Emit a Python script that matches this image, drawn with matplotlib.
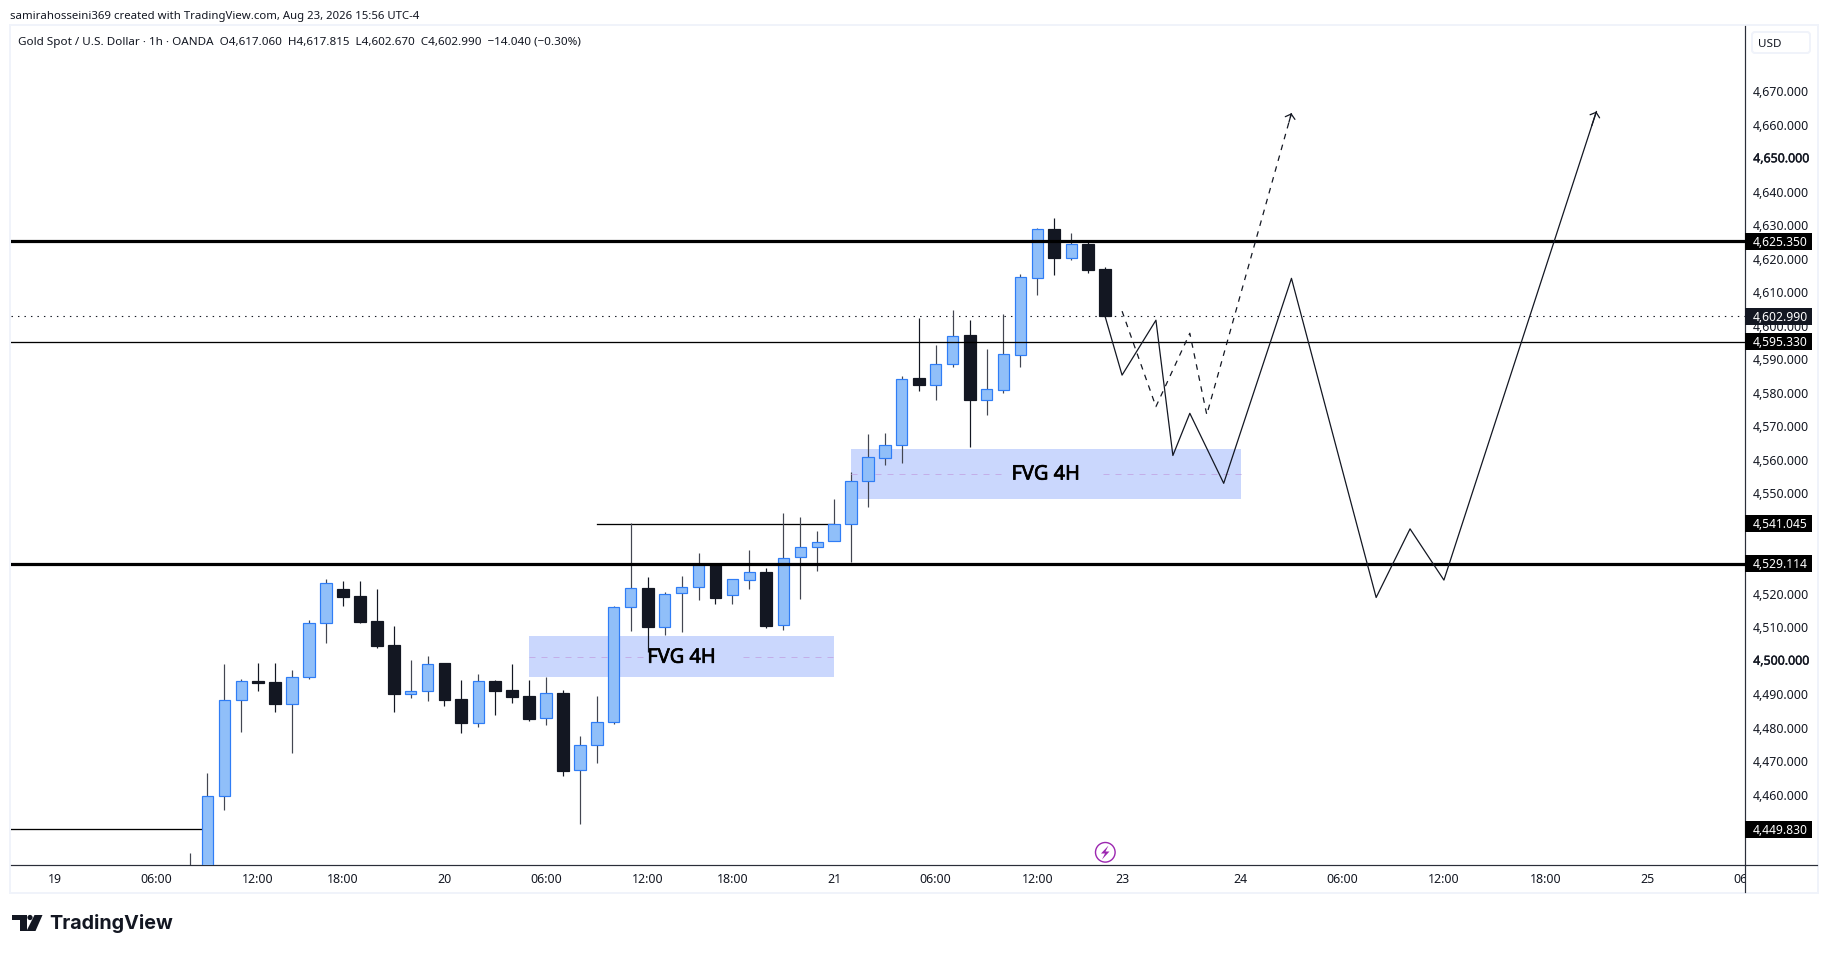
import numpy as np
import matplotlib
matplotlib.use("Agg")
import matplotlib.pyplot as plt
import matplotlib.patheffects as pe
from matplotlib.patches import Rectangle, Circle, Polygon, FancyBboxPatch
from matplotlib.lines import Line2D
from matplotlib.transforms import Affine2D, Bbox, TransformedBbox

# ---------- data ----------
bar_index = list(range(-1, 54))
opens = [4432, 4430, 4459.8, 4488.3, 4494.2, 4493.9, 4487.2, 4495.2, 4511.3, 4521.6, 4519.3, 4512.1, 4504.9,
         4490.1, 4491.0, 4499.3, 4488.8, 4481.4, 4494.2, 4491.5, 4489.7, 4482.9, 4490.6, 4467.4, 4474.9,
         4481.7, 4516.2, 4521.9, 4510.1, 4520.2, 4522.0, 4529.1, 4519.6, 4524.1, 4526.7, 4510.7, 4531.0,
         4534.0, 4535.8, 4540.8, 4553.9, 4560.8, 4564.4, 4584.6, 4582.6, 4588.6, 4597.4, 4578.1, 4581.1,
         4591.5, 4614.5, 4629.1, 4620.5, 4624.6, 4617.06]
highs = [4442.8, 4466.7, 4499.0, 4494.8, 4499.5, 4499.3, 4497.5, 4512.4, 4524.6, 4524.0, 4524.0, 4521.6, 4510.6,
         4500.2, 4501.6, 4499.5, 4494.5, 4496.3, 4494.5, 4499.0, 4494.5, 4495.4, 4491.5, 4477.5, 4489.7,
         4516.6, 4541.2, 4525.2, 4520.7, 4525.5, 4532.4, 4529.4, 4524.6, 4533.3, 4527.9, 4544.3, 4543.1,
         4538.9, 4548.5, 4556.4, 4567.9, 4568.2, 4585.2, 4602.5, 4594.4, 4604.9, 4601.9, 4593.2, 4603.7,
         4615.6, 4629.4, 4632.4, 4627.9, 4625.8, 4617.815]
lows = [4428, 4425, 4455.5, 4478.8, 4491.0, 4484.7, 4472.5, 4494.8, 4505.5, 4516.6, 4511.5, 4504.0, 4484.7,
        4489.1, 4488.2, 4486.7, 4478.4, 4480.4, 4484.0, 4487.6, 4482.2, 4481.0, 4465.8, 4451.3, 4469.7,
        4481.1, 4509.1, 4502.7, 4507.9, 4508.8, 4518.4, 4517.2, 4517.2, 4521.4, 4510.0, 4509.4, 4518.6,
        4527.0, 4535.8, 4529.6, 4545.9, 4558.7, 4559.3, 4580.8, 4578.1, 4587.7, 4563.8, 4573.6, 4580.2,
        4587.7, 4609.3, 4615.3, 4619.9, 4615.9, 4602.67]
closes = [4434, 4459.7, 4488.4, 4494.1, 4493.4, 4487.1, 4495.3, 4511.4, 4523.3, 4519.0, 4511.8, 4504.6, 4490.1,
          4491.1, 4499.2, 4488.5, 4481.4, 4494.1, 4491.2, 4489.4, 4482.8, 4490.5, 4467.3, 4475.0, 4481.8,
          4516.2, 4521.8, 4510.1, 4520.0, 4522.1, 4529.0, 4518.9, 4524.5, 4526.6, 4510.6, 4530.8, 4534.1,
          4535.6, 4541.0, 4553.8, 4560.9, 4564.5, 4584.2, 4582.5, 4588.7, 4597.0, 4578.1, 4581.2, 4591.6,
          4614.6, 4628.9, 4620.4, 4624.5, 4616.8, 4602.99]

price_ticks = [4670, 4660, 4650, 4640, 4630, 4620, 4610, 4600, 4590, 4580, 4570, 4560, 4550,
               4520, 4510, 4500, 4490, 4480, 4470, 4460]
time_tick_pos = [-9, -3, 3, 8, 14, 20, 26, 31, 37, 43, 49, 54, 61, 67, 73, 79, 85]
time_tick_lab = ["19", "06:00", "12:00", "18:00", "20", "06:00", "12:00", "18:00", "21", "06:00", "12:00",
                 "23", "24", "06:00", "12:00", "18:00", "25"]

level_thick = [4625.35, 4529.114]
level_thin = 4595.33
level_last = 4602.99
seg_a = ([23, 37], [4541.045, 4541.045])
seg_b = ([-12, 0], [4449.83, 4449.83])
tag_values = [4625.35, 4595.33, 4541.045, 4529.114, 4449.83]
tag_texts = ["4,625.350", "4,595.330", "4,541.045", "4,529.114", "4,449.830"]

fvg_boxes = [(19, 37, 4495.2, 4507.4), (38, 61, 4548.3, 4563.2)]
fvg_labels = [(28, 4501.0), (49.5, 4555.7)]
fvg_gaps = [(25.9, 31.6), (46.9, 52.9)]

path_solid_x = [53, 54, 56, 57, 58, 60, 64, 69, 71, 73, 82]
path_solid_y = [4602.9, 4585.4, 4601.8, 4561.4, 4574.0, 4553.1, 4614.3, 4519.0, 4539.5, 4524.2, 4664.1]
path_dash_x = [54, 56, 58, 59, 64]
path_dash_y = [4604.5, 4576.0, 4597.9, 4573.6, 4663.6]

header = "samirahosseini369 created with TradingView.com, Aug 23, 2026 15:56 UTC-4"
title = "Gold Spot / U.S. Dollar · 1h · OANDA  O4,617.060  H4,617.815  L4,602.670  C4,602.990  −14.040 (−0.30%)"

# ---------- layout ----------
W, H = 1827, 954
L, R, T, B = 10.7, 1745.0, 27.0, 866.0
PX_X, PX_Y = 16.94, 3.349
Y0 = 92.8
FONT = "Noto Sans"
INK = "#131722"
TICK_FS = 8.9
plt.rcParams["font.family"] = [FONT, "DejaVu Sans"]

fig = plt.figure(figsize=(W / 100, H / 100), dpi=100, facecolor="white")
ax = fig.add_axes([L / W, 1 - B / H, (R - L) / W, (B - T) / H])
ax.set_xlim((L - 207.3) / PX_X, (R - 207.3) / PX_X)
ax.set_ylim(4670 - (B - Y0) / PX_Y, 4670 + (Y0 - T) / PX_Y)
px = Affine2D().scale(1 / W, -1 / H).translate(0, 1) + fig.transFigure
lw1 = 0.72

for s in ("top", "left"):
    ax.spines[s].set_visible(False)
for s in ("bottom", "right"):
    ax.spines[s].set_color("#2a2e39")
    ax.spines[s].set_linewidth(lw1 * 1.2)

# ---------- frame ----------
fig.add_artist(Rectangle((9.5, T - 1), 1808, 894 - T + 1, transform=px, fill=False,
                         edgecolor="#f0f3fa", lw=lw1 * 2, zorder=-1))
fig.add_artist(Line2D([R, R], [B, 893], transform=px, color="#2a2e39", lw=lw1 * 1.2))
fig.add_artist(Line2D([R, 1817], [B, B], transform=px, color="#2a2e39", lw=lw1 * 1.2))

# ---------- FVG boxes ----------
for (x0, x1, y0, y1), (lx, ly), (g0, g1) in zip(fvg_boxes, fvg_labels, fvg_gaps):
    ax.add_patch(Rectangle((x0, y0), x1 - x0, y1 - y0, facecolor="#cad7fd", edgecolor="none", zorder=1))
    mid = (y0 + y1) / 2
    for a, b in ((x0, g0), (g1, x1)):
        ax.plot([a, b], [mid, mid], color="#c3aee8", lw=lw1, ls=(0, (6, 6)), zorder=3.5)
    ax.text(lx, ly, "FVG 4H", ha="center", va="center", fontsize=14.4, color="black", zorder=6,
            path_effects=[pe.withStroke(linewidth=0.5, foreground="black")])

# ---------- candles ----------
for i, o, h, l, c in zip(bar_index, opens, highs, lows, closes):
    up = c >= o
    ax.plot([i, i], [l, h], color="#434651" if up else INK, lw=lw1 * 1.2, zorder=3, solid_capstyle="butt")
    top, bot = max(o, c), min(o, c)
    if up:
        ax.bar(i, top - bot, bottom=bot, width=0.665, color="#90bff9", edgecolor="#2f7df6",
               linewidth=lw1 * 1.2, zorder=4)
    else:
        ax.bar(i, top - bot, bottom=bot, width=0.70, color=INK, edgecolor=INK, linewidth=lw1 * 1.2, zorder=4)

# ---------- levels ----------
for v in level_thick:
    ax.axhline(v, color="black", lw=lw1 * 3.2, zorder=5)
ax.axhline(level_thin, color="black", lw=lw1 * 1.3, zorder=5)
ax.axhline(level_last, color=INK, lw=lw1 * 1.1, ls=(0, (1.3, 4.6)), zorder=2)
ax.plot(*seg_a, color="black", lw=lw1 * 1.3, zorder=2.5)
ax.plot(*seg_b, color="black", lw=lw1 * 1.3, zorder=2.5)

# ---------- forecast paths ----------
ax.plot(path_solid_x, path_solid_y, color=INK, lw=lw1 * 1.25, zorder=5.5)
ax.plot(path_dash_x, path_dash_y, color=INK, lw=lw1 * 1.25, ls=(0, (4.5, 4.5)), zorder=5.5)
for xs, ys in ((path_solid_x, path_solid_y), (path_dash_x, path_dash_y)):
    ax.annotate("", xy=(xs[-1], ys[-1]),
                xytext=(xs[-1] - 0.03 * (xs[-1] - xs[-2]), ys[-1] - 0.03 * (ys[-1] - ys[-2])),
                arrowprops=dict(arrowstyle="->,head_length=0.3,head_width=0.36", color=INK,
                                lw=lw1 * 1.25, shrinkA=0, shrinkB=0), zorder=5.5)

# ---------- axes ticks ----------
ax.yaxis.tick_right()
ax.set_yticks(price_ticks)
ax.set_yticklabels([f"{v:,.3f}" for v in price_ticks], va="center")
ax.set_xticks(time_tick_pos)
ax.set_xticklabels(time_tick_lab)
ax.tick_params(axis="y", length=0, pad=5.9, labelsize=TICK_FS, labelcolor=INK)
ax.tick_params(axis="x", length=0, pad=5.2, labelsize=TICK_FS, labelcolor=INK)
for lab in ax.get_xticklabels():
    if lab.get_text() == "24":
        lab.set_fontweight("bold")
for lab in ax.get_yticklabels():
    if lab.get_text() in ("4,650.000", "4,500.000"):
        lab.set_path_effects([pe.withStroke(linewidth=0.3, foreground=INK)])

clipped = ax.annotate("06:00", xy=(91, 0), xycoords=("data", "axes fraction"), xytext=(0, -5.2),
                      textcoords="offset points", ha="center", va="top", fontsize=TICK_FS, color=INK,
                      annotation_clip=False)
clipped.set_clip_box(TransformedBbox(Bbox([[0, 0], [R / W, 1]]), fig.transFigure))
clipped.set_clip_on(True)

# ---------- price tags ----------
tag_w = 67 / (R - L)
tag_h = 17 / PX_Y
def tag(v, s, col):
    ax.add_patch(Rectangle((1, v - tag_h / 2), tag_w, tag_h, transform=ax.get_yaxis_transform(),
                           facecolor=col, edgecolor="none", clip_on=False, zorder=7))
    ax.text(1 + 8 / (R - L), v, s, transform=ax.get_yaxis_transform(), color="white", fontsize=8.7,
            fontweight="bold", va="center", ha="left", clip_on=False, zorder=8)
tag(level_last, "4,602.990", INK)
for v, s in zip(tag_values, tag_texts):
    tag(v, s, "black")

# ---------- currency box ----------
fig.add_artist(FancyBboxPatch((1752, 33), 58, 21, boxstyle="round,pad=0,rounding_size=3", transform=px,
                              facecolor="white", edgecolor="#f0f3fa", lw=lw1 * 2))
fig.text(1758 / W, 1 - 44.5 / H, "USD", fontsize=8.4, color=INK, va="center", ha="left")

# ---------- header ----------
fig.text(10 / W, 1 - 16 / H, header, fontsize=8.2, color=INK, va="center", ha="left")
fig.text(17.5 / W, 1 - 43 / H, title, fontsize=8.4, color=INK, va="center", ha="left")

# ---------- lightning icon ----------
fig.add_artist(Circle((1105.3, 853.3), 9.8, transform=px, fill=True, facecolor="white",
                      edgecolor="#9c27b0", lw=lw1 * 1.4, zorder=6))
fig.add_artist(Polygon([(1108.5, 846.5), (1101, 854.5), (1105, 854.5), (1102, 860.5), (1109.5, 852.5), (1105.5, 852.5)],
                       closed=True, transform=px, facecolor="#9c27b0", edgecolor="none", zorder=7))

# ---------- logo ----------
LOGO = "#131722"
fig.add_artist(Polygon([(12, 916), (27, 916), (27, 932), (19.5, 932), (19.5, 921), (12, 921)], closed=True,
                       transform=px, facecolor=LOGO, edgecolor="none"))
fig.add_artist(Circle((30, 918.5), 2.6, transform=px, facecolor=LOGO, edgecolor="none"))
fig.add_artist(Polygon([(34.5, 916), (42.5, 916), (35.5, 932), (26.5, 932)], closed=True,
                       transform=px, facecolor=LOGO, edgecolor="none"))
fig.text(49 / W, 1 - 923.5 / H, "TradingView", fontsize=14.2, color=LOGO, va="center", ha="left",
         family="Inter", fontweight="bold")

fig.savefig("out.png", dpi=100, facecolor="white")
